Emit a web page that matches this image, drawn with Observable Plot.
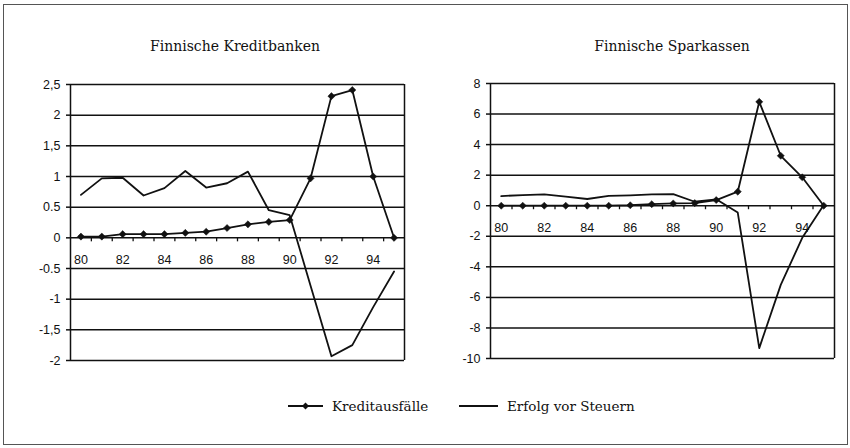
<!DOCTYPE html>
<html>
<head>
<meta charset="utf-8">
<script src="https://cdn.jsdelivr.net/npm/d3@7"></script>
<script src="https://cdn.jsdelivr.net/npm/@observablehq/plot@0.6"></script>
<style>
  body { margin: 0; background: #fff; }
  #root { position: relative; width: 850px; height: 448px; overflow: hidden; background: #fff; }
  #frame { position: absolute; left: 3px; top: 4px; width: 845px; height: 441px; border: 1px solid #555; box-sizing: border-box; }
  .title { position: absolute; font-family: "DejaVu Serif", serif; font-size: 14px; color: #111; transform: translate(-50%, -50%); white-space: nowrap; }
  .panel { position: absolute; }
  #legend { position: absolute; left: 0; top: 406px; width: 850px; transform: translateY(-50%); font-family: "DejaVu Serif", serif; font-size: 13.5px; color: #111; }
  .item { position: absolute; display: flex; align-items: center; white-space: nowrap; top: -9px; }
  .item svg { margin-right: 9px; }
</style>
</head>
<body>
<div id="root">
  <div id="frame"></div>
  <div class="title" style="left:235px; top:46px;">Finnische Kreditbanken</div>
  <div class="title" style="left:672px; top:46px;">Finnische Sparkassen</div>
  <div id="left" class="panel" style="left:0px; top:70px;"></div>
  <div id="right" class="panel" style="left:420px; top:70px;"></div>
  <div id="legend">
    <div class="item" style="left:288px;">
      <svg width="35" height="18"><line x1="0" y1="9" x2="35" y2="9" stroke="#111" stroke-width="2"/><path d="M17.5,5.5L21,9L17.5,12.5L14,9Z" fill="#111"/></svg>
      <span>Kreditausfälle</span>
    </div>
    <div class="item" style="left:459px;">
      <svg width="39" height="18"><line x1="0" y1="9" x2="39" y2="9" stroke="#111" stroke-width="2"/></svg>
      <span>Erfolg vor Steuern</span>
    </div>
  </div>
</div>
<script>
// Years (19xx)
const years = [80, 81, 82, 83, 84, 85, 86, 87, 88, 89, 90, 91, 92, 93, 94, 95];
const xTickLabels = [80, 82, 84, 86, 88, 90, 92, 94];

// Finnische Kreditbanken
const kreditbankenAusfaelle = [0.02, 0.02, 0.06, 0.06, 0.06, 0.08, 0.10, 0.16, 0.22, 0.26, 0.29, 0.97, 2.31, 2.41, 1.00, 0.00];
const kreditbankenErfolg   = [0.70, 0.97, 0.98, 0.69, 0.81, 1.09, 0.82, 0.89, 1.08, 0.45, 0.37, -0.78, -1.93, -1.75, -1.13, -0.55];
const kreditbankenYTicks  = [2.5, 2, 1.5, 1, 0.5, 0, -0.5, -1, -1.5, -2];
const kreditbankenYLabels = ["2,5", "2", "1,5", "1", "0.5", "0", "-0.5", "-1", "-1,5", "-2"];

// Finnische Sparkassen
const sparkassenAusfaelle = [0, 0, 0, 0, 0, 0, 0.03, 0.10, 0.15, 0.17, 0.37, 0.92, 6.80, 3.27, 1.86, 0.00];
const sparkassenErfolg    = [0.63, 0.70, 0.74, 0.59, 0.44, 0.65, 0.68, 0.74, 0.76, 0.26, 0.42, -0.45, -9.32, -5.18, -2.10, 0.05];
const sparkassenYTicks  = [8, 6, 4, 2, 0, -2, -4, -6, -8, -10];
const sparkassenYLabels = ["8", "6", "4", "2", "0", "-2", "-4", "-6", "-8", "-10"];

const ink = "#111";

function panel(o) {
  const rowsA = years.map((x, i) => ({x, v: o.ausfaelle[i]}));
  const rowsE = years.map((x, i) => ({x, v: o.erfolg[i]}));
  const boundaries = years.slice(0, -1).map(y => y + 0.5);
  const xDomain = [years[0] - 0.5, years[years.length - 1] + 0.5];
  return Plot.plot({
    width: o.width, height: o.height,
    marginTop: o.mt, marginBottom: o.mb, marginLeft: o.ml, marginRight: o.mr,
    style: {fontFamily: "'Liberation Sans', Arial, sans-serif", fontSize: "12px", color: ink, background: "transparent", overflow: "visible"},
    x: {domain: xDomain, axis: null},
    y: {domain: [o.yTicks[o.yTicks.length - 1], o.yTicks[0]]},
    marks: [
      Plot.ruleY(o.yTicks, {stroke: ink, strokeWidth: 1.5}),
      Plot.axisY(o.yTicks, {tickSize: 4, tickPadding: 6, stroke: ink, strokeWidth: 1.5, fill: ink, fontSize: 12.5, label: null,
        tickFormat: d => o.yLabels[o.yTicks.indexOf(d)]}),
      Plot.ruleX(xDomain, {stroke: ink, strokeWidth: 1.5}),
      Plot.ruleX(boundaries, {x: d => d, y1: 0, y2: 0, insetBottom: -4, stroke: ink, strokeWidth: 1.3}),
      Plot.text(xTickLabels, {x: d => d, y: 0, dy: 22, text: d => String(d), fill: ink, fontSize: 12.5, textAnchor: "middle", lineAnchor: "middle"}),
      Plot.line(rowsE, {x: "x", y: "v", stroke: ink, strokeWidth: 1.8}),
      Plot.line(rowsA, {x: "x", y: "v", stroke: ink, strokeWidth: 1.8}),
      Plot.dot(rowsA, {x: "x", y: "v", symbol: "diamond2", r: 3.2, fill: ink, stroke: ink, strokeWidth: 0.5})
    ]
  });
}

document.getElementById("left").appendChild(panel({
  ausfaelle: kreditbankenAusfaelle, erfolg: kreditbankenErfolg,
  yTicks: kreditbankenYTicks, yLabels: kreditbankenYLabels,
  width: 420, height: 310, mt: 14, mb: 20, ml: 70, mr: 16
}));
document.getElementById("right").appendChild(panel({
  ausfaelle: sparkassenAusfaelle, erfolg: sparkassenErfolg,
  yTicks: sparkassenYTicks, yLabels: sparkassenYLabels,
  width: 430, height: 310, mt: 13, mb: 22, ml: 70, mr: 16
}));
</script>
</body>
</html>
